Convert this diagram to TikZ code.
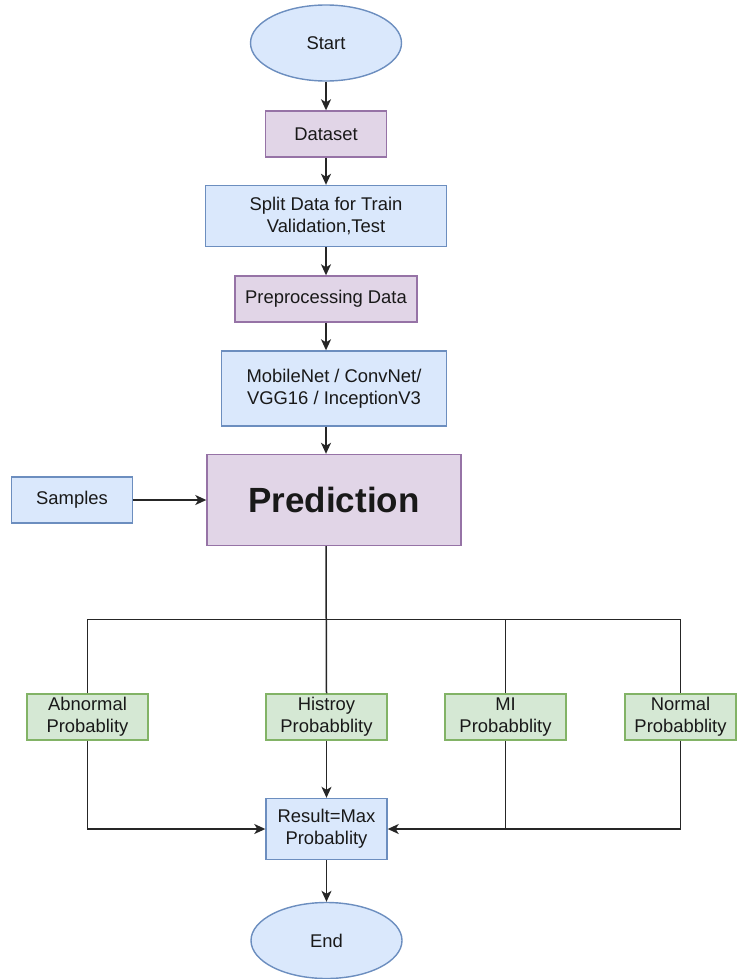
\documentclass[tikz,border=0pt]{standalone}
\usepackage{fontspec}
\setmainfont{Liberation Sans}
\usetikzlibrary{shapes.geometric, arrows.meta}

\definecolor{blueFill}{HTML}{DAE8FC}
\definecolor{blueLine}{HTML}{6C8EBF}
\definecolor{purpleFill}{HTML}{E1D5E7}
\definecolor{purpleLine}{HTML}{9673A6}
\definecolor{greenFill}{HTML}{D5E8D4}
\definecolor{greenLine}{HTML}{82B366}

\begin{document}
\begin{tikzpicture}[x=0.5pt, y=-0.5pt, node distance=45.5pt, every node/.style={font=\fontsize{9.2}{11.2}\selectfont, text=black!90}]
    \tikzstyle{terminal} = [ellipse, draw=blueLine, fill=blueFill, line width=0.7pt, minimum width=75.5pt, minimum height=38pt, inner sep=0pt]
    \tikzstyle{bluebox} = [rectangle, draw=blueLine, fill=blueFill, line width=0.7pt, align=center, minimum width=60.5pt, minimum height=23pt, inner sep=1pt]
    \tikzstyle{purplebox} = [rectangle, draw=purpleLine, fill=purpleFill, line width=0.7pt, align=center, minimum width=60.5pt, minimum height=23pt, inner sep=1pt]
    \tikzstyle{greenbox} = [rectangle, draw=greenLine, fill=greenFill, line width=0.7pt, align=center, minimum width=60.5pt, minimum height=23pt, inner sep=1pt]
    \tikzstyle{line} = [draw=black!85, line width=0.75pt]
    \tikzstyle{arrow} = [line, -{Stealth[length=5.5pt, width=5pt, inset=1.5pt]}]

    \useasboundingbox (0,0) rectangle (736,979);

    % main column
    \node (start) [terminal] at (326,43) {Start};
    \node (dataset) [purplebox, below of=start] {Dataset};
    \node (split) [bluebox, below of=dataset, node distance=41pt, minimum width=120.5pt, minimum height=30.5pt] {Split Data for Train\\Validation,Test};
    \node (preproc) [purplebox, below of=split, node distance=41.5pt, minimum width=91pt] {Preprocessing Data};
    \node (model) [bluebox, below of=preproc, node distance=44.75pt, xshift=4pt, minimum width=112.5pt, minimum height=37.5pt] {MobileNet / ConvNet/\\VGG16 / InceptionV3};
    \node (prediction) [purplebox, below of=model, node distance=55.75pt, minimum width=127pt, minimum height=45.5pt, font=\fontsize{17.5}{20}\selectfont\bfseries] {Prediction};
    \node (samples) [bluebox, left of=prediction, node distance=131pt] {Samples};

    % probability row
    \node (histroy) [greenbox, below of=prediction, node distance=108.5pt, xshift=-3.75pt] {Histroy\\Probabblity};
    \node (abnormal) [greenbox, left of=histroy, node distance=119.5pt] {Abnormal\\Probablity};
    \node (mi) [greenbox, right of=histroy, node distance=89.5pt] {MI\\Probabblity};
    \node (normal) [greenbox, right of=mi, node distance=87.5pt, minimum width=55.5pt] {Normal\\Probabblity};

    \node (result) [bluebox, below of=histroy, node distance=56pt, minimum height=30.5pt] {Result=Max\\Probablity};
    \node (end) [terminal, below of=result, node distance=55.75pt] {End};

    \draw [arrow] (start) -- (dataset);
    \draw [arrow] (dataset) -- (split);
    \draw [arrow] (split) -- (preproc);
    \draw [arrow] (preproc) -- (preproc.south |- model.north);
    \draw [arrow] (preproc.south |- model.south) -- (preproc.south |- prediction.north);
    \draw [arrow] (samples) -- (prediction);

    % branches to the four probabilities
    \path (histroy.north) ++(0,-74) coordinate (fork);
    \draw [line] (preproc.south |- prediction.south) -- (histroy.north);
    \draw [line] (abnormal.north) |- (fork) -| (normal.north);
    \draw [line] (mi.north) -- (mi.north |- fork);

    \draw [arrow] (histroy) -- (result);
    \draw [arrow] (abnormal) |- (result);
    \draw [arrow] (normal) |- (result);
    \draw [line] (mi) -- (mi |- result);
    \draw [arrow] (result) -- (end);

\end{tikzpicture}
\end{document}
